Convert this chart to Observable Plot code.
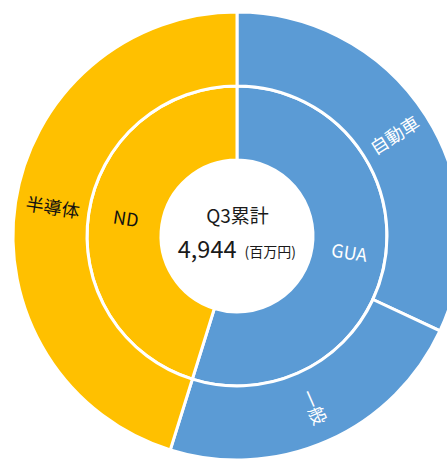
<!DOCTYPE html>
<html><head><meta charset="utf-8">
<script src="https://cdn.jsdelivr.net/npm/d3@7"></script>
<script src="https://cdn.jsdelivr.net/npm/@observablehq/plot@0.6"></script>
<style>
html,body{margin:0;padding:0;background:#fff;overflow:hidden}
#chart svg{display:block}
</style>
</head><body><div id="chart"></div>
<script>
// Data (百万円)
const innerCategories = ["GUA", "ND"];
const innerValues = [2710, 2234];
const outerCategories = ["自動車", "一般", "半導体"];
const outerValues = [1580, 1130, 2234];
const outerParents = ["GUA", "GUA", "ND"];
const centerTitle = "Q3累計";
const centerTotal = "4,944";
const centerUnit = "(百万円)";

const colorOf = {GUA: "#5B9BD5", ND: "#FFC000"};
const textOf = {GUA: "#ffffff", ND: "#111111"};

const R0 = 76, R1 = 150, R2 = 224;
const pie = d3.pie().sort(null).value(d => d);
const innerArcs = pie(innerValues).map((a, i) => ({...a, cat: innerCategories[i], parent: innerCategories[i], r0: R0, r1: R1}));
const outerArcs = pie(outerValues).map((a, i) => ({...a, cat: outerCategories[i], parent: outerParents[i], r0: R1, r1: R2}));
const allArcs = [...innerArcs, ...outerArcs];

const labels = allArcs.map(a => {
  const mid = (a.startAngle + a.endAngle) / 2;
  const r = (a.r0 + a.r1) / 2;
  const deg = mid * 180 / Math.PI;
  const rot = deg < 180 ? deg - 90 : deg - 270;
  return {label: a.cat, x: r * Math.sin(mid), y: r * Math.cos(mid), rotate: rot, fill: textOf[a.parent]};
});

function rings(index, scales) {
  const sx = typeof scales.x === "function" ? scales.x : (v => 237 + v);
  const sy = typeof scales.y === "function" ? scales.y : (v => 236 - v);
  const cx = sx(0), cy = sy(0);
  const k = Math.abs(sx(1) - sx(0));
  const arc = d3.arc();
  const g = d3.create("svg:g").attr("transform", `translate(${cx},${cy})`);
  g.selectAll("path").data(allArcs).join("path")
    .attr("d", d => arc({innerRadius: d.r0 * k, outerRadius: d.r1 * k, startAngle: d.startAngle, endAngle: d.endAngle}))
    .attr("fill", d => colorOf[d.parent])
    .attr("stroke", "#ffffff")
    .attr("stroke-width", 3)
    .attr("stroke-linejoin", "miter");
  return g.node();
}

const font = "'Noto Sans CJK JP', 'Noto Sans', sans-serif";

const chart = Plot.plot({
  width: 447,
  height: 459,
  margin: 0,
  style: {fontFamily: font, background: "#fff"},
  x: {domain: [-237, 210], axis: null},
  y: {domain: [-223, 236], axis: null},
  marks: [
    rings,
    Plot.text(labels, {x: "x", y: "y", text: "label", rotate: "rotate", fill: "fill", fontSize: 18, fontFamily: font}),
    Plot.text([centerTitle], {x: () => 0, y: () => 0, text: d => d, dy: -20, fontSize: 19, fill: "#1a1a1a", fontFamily: font}),
    Plot.text([centerTotal], {x: () => 0, y: () => 0, text: d => d, dy: 14, dx: -1, textAnchor: "end", fontSize: 23.5, fill: "#1a1a1a", fontFamily: font}),
    Plot.text([centerUnit], {x: () => 0, y: () => 0, text: d => d, dy: 16, dx: 7, textAnchor: "start", fontSize: 14, fill: "#1a1a1a", fontFamily: font})
  ]
});
document.getElementById("chart").appendChild(chart);
</script>
</body></html>
